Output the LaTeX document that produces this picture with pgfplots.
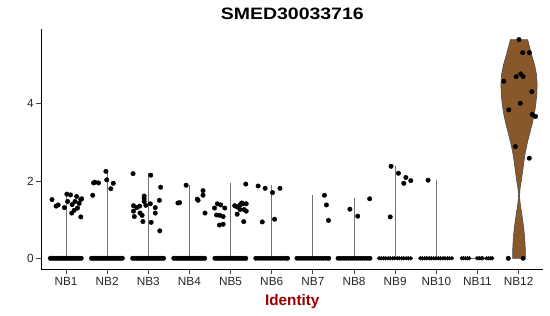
\documentclass[border=0pt]{standalone}
\usepackage{pgfplots}
\pgfplotsset{compat=1.18}
\usepackage{fontspec}
\setmainfont{Liberation Sans}
\definecolor{violinbrown}{RGB}{136,88,42}
\definecolor{labred}{RGB}{153,0,0}
\begin{document}
\begin{tikzpicture}
\path[use as bounding box] (-41.3pt,-46.7pt) rectangle (508.7pt,269.3pt);
\begin{axis}[
  scale only axis, width=502pt, height=240.6pt,
  xmin=0.4, xmax=12.6, ymin=-0.285, ymax=5.94,
  axis x line*=bottom, axis y line*=left,
  axis line style={-, line width=0.75pt, black},
  xtick={1,2,3,4,5,6,7,8,9,10,11,12},
  xticklabels={NB1,NB2,NB3,NB4,NB5,NB6,NB7,NB8,NB9,NB10,NB11,NB12},
  ytick={0,2,4},
  tick align=outside,
  major tick length=4.8pt,
  tick style={line width=0.75pt, black!75},
  /pgf/number format/assume math mode=true,
  ticklabel style={font=\fontsize{11.8}{13}\selectfont, text=black!85, inner sep=0pt},
  xticklabel style={anchor=north, yshift=-3pt},
  yticklabel style={anchor=east, xshift=-2.5pt},
  title={SMED30033716},
  every axis title/.style={font=\bfseries\fontsize{16.5}{19}\selectfont, xscale=1.18, at={(axis description cs:0.5,1)}, anchor=base, yshift=9.4pt, inner sep=0pt},
  xlabel={Identity},
  every axis x label/.style={font=\bfseries\fontsize{15.3}{18}\selectfont, text=labred, at={(axis description cs:0.5,0)}, anchor=base, yshift=-36pt, inner sep=0pt},
  clip=false,
]
% violin outlines of the near-zero groups
\pgfplotsset{vline/.style={black!55, line width=0.8pt, forget plot}}
\addplot[vline] coordinates {(1,0) (1,1.70)};
\addplot[vline] coordinates {(2,0) (2,2.27)};
\addplot[vline] coordinates {(3,0) (3,2.20)};
\addplot[vline] coordinates {(4,0) (4,1.90)};
\addplot[vline] coordinates {(5,0) (5,1.94)};
\addplot[vline] coordinates {(6,0) (6,1.90)};
\addplot[vline] coordinates {(7,0) (7,1.64)};
\addplot[vline] coordinates {(8,0) (8,1.55)};
\addplot[vline] coordinates {(9,0) (9,2.40)};
\addplot[vline] coordinates {(10,0) (10,2.03)};
\addplot[vline] coordinates {(0.6,0) (1.4,0)};
\addplot[vline] coordinates {(1.6,0) (2.4,0)};
\addplot[vline] coordinates {(2.6,0) (3.4,0)};
\addplot[vline] coordinates {(3.6,0) (4.4,0)};
\addplot[vline] coordinates {(4.6,0) (5.4,0)};
\addplot[vline] coordinates {(5.6,0) (6.4,0)};
\addplot[vline] coordinates {(6.6,0) (7.4,0)};
\addplot[vline] coordinates {(7.6,0) (8.4,0)};
\addplot[vline] coordinates {(8.6,0) (9.4,0)};
\addplot[vline] coordinates {(9.6,0) (10.4,0)};
\addplot[vline] coordinates {(10.6,0) (11.4,0)};
% NB12 violin
\addplot[fill=violinbrown, draw=black!70, line width=0.6pt] coordinates {
(12.165,0) (12.162,0.25) (12.15,0.5) (12.128,0.75) (12.098,1.0) (12.062,1.25) (12.035,1.45) (12.022,1.62)
(12.035,1.8) (12.065,2.0) (12.098,2.25) (12.128,2.5) (12.165,2.75) (12.215,3.0) (12.275,3.25) (12.335,3.5)
(12.385,3.75) (12.42,4.0) (12.442,4.25) (12.45,4.5) (12.435,4.75) (12.39,5.0) (12.32,5.25) (12.27,5.45) (12.22,5.656)
(11.80,5.656) (11.75,5.45) (11.70,5.25) (11.63,5.0) (11.585,4.75) (11.57,4.5) (11.578,4.25) (11.60,4.0)
(11.635,3.75) (11.685,3.5) (11.745,3.25) (11.805,3.0) (11.855,2.75) (11.892,2.5) (11.922,2.25) (11.955,2.0)
(11.985,1.8) (11.998,1.62) (11.985,1.45) (11.958,1.25) (11.922,1.0) (11.892,0.75) (11.87,0.5) (11.858,0.25) (11.855,0)
} -- cycle;
% zero-valued cells
\pgfplotsset{zdot/.style={only marks, mark=*, mark size=2.25pt, mark options={draw=none, fill=black}, forget plot}}
\addplot[zdot] coordinates {(0.62,0)(0.67,0)(0.72,0)(0.77,0)(0.82,0)(0.87,0)(0.92,0)(0.97,0)(1.02,0)(1.07,0)(1.12,0)(1.17,0)(1.22,0)(1.27,0)(1.32,0)(1.37,0)};
\addplot[zdot] coordinates {(1.62,0)(1.67,0)(1.72,0)(1.77,0)(1.82,0)(1.87,0)(1.92,0)(1.97,0)(2.02,0)(2.07,0)(2.12,0)(2.17,0)(2.22,0)(2.27,0)(2.32,0)(2.37,0)};
\addplot[zdot] coordinates {(2.62,0)(2.67,0)(2.72,0)(2.77,0)(2.82,0)(2.87,0)(2.92,0)(2.97,0)(3.02,0)(3.07,0)(3.12,0)(3.17,0)(3.22,0)(3.27,0)(3.32,0)(3.37,0)};
\addplot[zdot] coordinates {(3.62,0)(3.67,0)(3.72,0)(3.77,0)(3.82,0)(3.87,0)(3.92,0)(3.97,0)(4.02,0)(4.07,0)(4.12,0)(4.17,0)(4.22,0)(4.27,0)(4.32,0)(4.37,0)};
\addplot[zdot] coordinates {(4.62,0)(4.67,0)(4.72,0)(4.77,0)(4.82,0)(4.87,0)(4.92,0)(4.97,0)(5.02,0)(5.07,0)(5.12,0)(5.17,0)(5.22,0)(5.27,0)(5.32,0)(5.37,0)};
\pgfplotsset{zdots/.style={only marks, mark=*, mark size=2.1pt, mark options={draw=none, fill=black}, forget plot}}
\addplot[zdots] coordinates {(5.61,0)(5.66,0)(5.71,0)(5.76,0)(5.81,0)(5.86,0)(5.91,0)(5.96,0)(6.01,0)(6.06,0)(6.11,0)(6.16,0)(6.21,0)(6.26,0)(6.31,0)(6.36,0)(6.39,0)};
\addplot[zdots] coordinates {(6.61,0)(6.66,0)(6.71,0)(6.76,0)(6.81,0)(6.86,0)(6.91,0)(6.96,0)(7.01,0)(7.06,0)(7.11,0)(7.16,0)(7.21,0)(7.26,0)(7.31,0)(7.36,0)(7.39,0)};
\addplot[zdots] coordinates {(7.61,0)(7.66,0)(7.71,0)(7.76,0)(7.81,0)(7.86,0)(7.91,0)(7.96,0)(8.01,0)(8.06,0)(8.11,0)(8.16,0)(8.21,0)(8.26,0)(8.31,0)(8.36,0)(8.39,0)};
\pgfplotsset{zdott/.style={only marks, mark=*, mark size=1.9pt, mark options={draw=none, fill=black}, forget plot}}
\addplot[zdott] coordinates {(8.61,0)(8.66,0)(8.72,0)(8.77,0)(8.83,0)(8.88,0)(8.94,0)(8.99,0)(9.05,0)(9.10,0)(9.16,0)(9.21,0)(9.27,0)(9.32,0)(9.38,0)};
\addplot[zdott] coordinates {(9.61,0)(9.66,0)(9.72,0)(9.77,0)(9.83,0)(9.88,0)(9.94,0)(9.99,0)(10.05,0)(10.10,0)(10.16,0)(10.21,0)(10.27,0)(10.32,0)(10.38,0)};
\addplot[zdott] coordinates {(10.62,0)(10.66,0)(10.71,0)(10.76,0)(10.80,0)(10.99,0)(11.04,0)(11.09,0)(11.13,0)(11.22,0)(11.27,0)(11.32,0)(11.36,0)};
% expressing cells
\addplot[zdot] coordinates {
(0.66,1.52)(0.76,1.35)(0.81,1.38)(0.96,1.31)(1.02,1.66)(1.11,1.64)(1.04,1.47)(1.15,1.39)(1.14,1.17)
(1.26,1.60)(1.22,1.47)(1.28,1.30)(1.36,1.52)(1.32,1.42)(1.38,1.54)(1.20,1.24)(1.36,1.07)
(1.67,1.95)(1.70,1.97)(1.65,1.63)(1.79,1.95)(1.97,2.25)(1.99,2.03)(2.09,1.80)(2.15,1.94)
(2.63,2.19)(3.06,2.15)(3.30,1.84)(3.27,1.50)(2.90,1.61)(2.90,1.54)(2.90,1.47)(2.94,1.37)(2.79,1.35)
(2.72,1.31)(2.64,1.36)(2.64,1.22)(2.66,1.08)(2.80,1.17)(2.85,1.11)(3.05,1.41)(3.17,1.31)(3.17,1.17)
(3.07,0.93)(2.87,0.95)(3.28,0.71)
(3.92,1.89)(3.72,1.43)(3.76,1.44)(4.19,1.53)(4.21,1.50)(4.33,1.75)(4.33,1.63)(4.38,1.17)
(4.61,1.30)(4.68,1.41)(4.76,1.38)(4.86,1.30)(4.66,1.12)(4.74,1.11)(4.82,1.08)(4.73,0.86)(4.82,0.88)
(5.10,1.36)(5.16,1.33)(5.23,1.38)(5.27,1.43)(5.30,1.41)(5.38,1.41)(5.33,1.26)(5.38,1.22)(5.23,1.26)
(5.16,1.14)(5.32,0.95)(5.37,1.92)
(5.67,1.87)(5.84,1.81)(6.20,1.81)(5.77,0.94)(6.02,1.70)(6.07,1.01)
(7.28,1.63)(7.33,1.38)(7.38,0.98)
(7.90,1.27)(8.09,1.09)(8.38,1.54)
(8.90,2.38)(9.08,2.20)(9.26,2.09)(9.21,1.94)(9.38,2.01)(8.88,1.07)
(9.80,2.02)
(12.01,5.66)(12.10,5.32)(12.26,5.32)(12.05,4.77)(11.94,4.70)(12.11,4.70)(11.64,4.58)(12.32,4.31)
(12.04,4.01)(11.76,3.84)(12.33,3.72)(12.41,3.67)(11.92,2.89)(12.26,2.59)(11.75,0)(12.11,0)
};
\end{axis}
\end{tikzpicture}
\end{document}
